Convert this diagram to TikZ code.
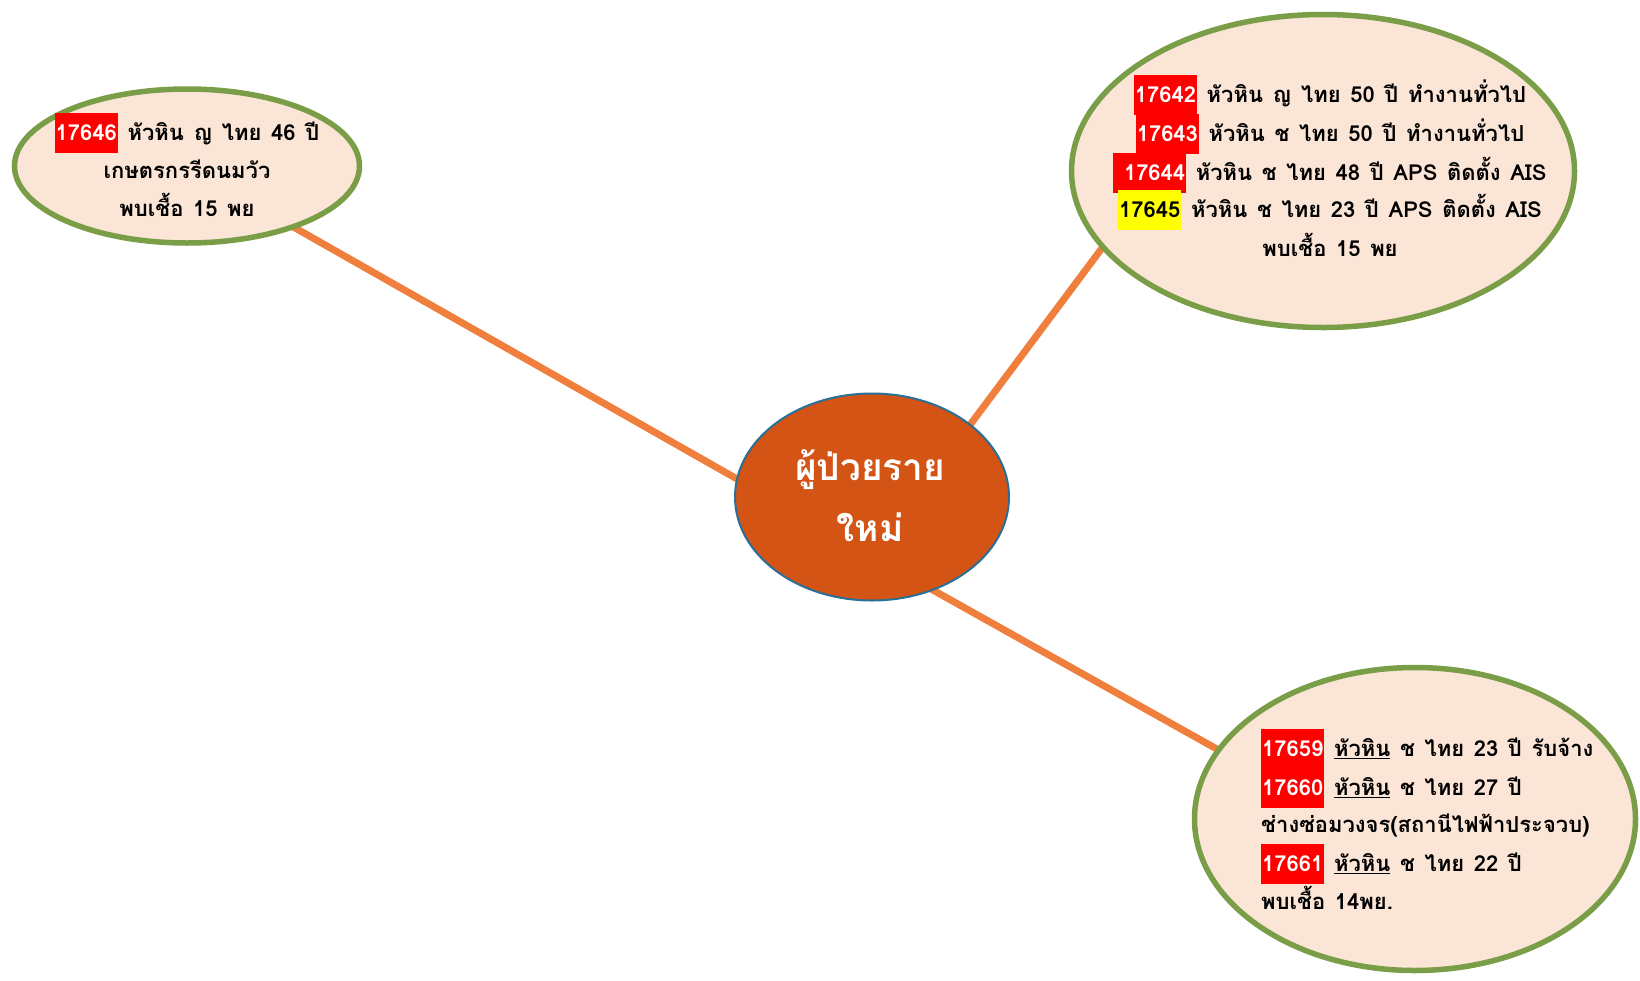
\documentclass[tikz,border=0pt]{standalone}
\usepackage{fontspec}
\usepackage{xcolor}
\usetikzlibrary{shapes.geometric}
\newfontfamily\thai[Script=Thai,WordSpace=1.3]{Loma}
\definecolor{bubblefill}{HTML}{FBE5D6}
\definecolor{bubbleedge}{HTML}{7A9D48}
\definecolor{corefill}{HTML}{D35414}
\definecolor{coreedge}{HTML}{2A6F97}
\definecolor{linkorange}{HTML}{F07E3C}
\definecolor{hlred}{HTML}{FF0000}
\definecolor{hlyellow}{HTML}{FFFF00}
\newcommand\hlnum[3]{{\setlength\fboxsep{1pt}\colorbox{#1}{\rule[-11.5pt]{0pt}{38pt}\color{#2}#3}}}
\newcommand\ul[1]{\underline{#1}}
\tikzset{
  bubble/.style={ellipse, draw=bubbleedge, line width=5.5pt, fill=bubblefill, inner sep=0pt},
  core/.style={ellipse, draw=coreedge, line width=2pt, fill=corefill, inner sep=0pt},
  link/.style={draw=linkorange, line width=7pt},
  txt/.style={inner sep=0pt, anchor=base, font=\thai\bfseries\fontsize{22}{26}\selectfont},
  txtl/.style={txt, anchor=base west},
  coretxt/.style={inner sep=0pt, anchor=base, text=white, font=\thai\bfseries\fontsize{37}{42}\selectfont}
}
\begin{document}
\begin{tikzpicture}[x=1pt,y=-1pt]
\useasboundingbox (0,0) rectangle (1640,980);
% connector end coordinates
\coordinate (cL) at (760,492);
\coordinate (cT) at (955,445);
\coordinate (tIn) at (1120,224);
\coordinate (cB) at (915,580);
\coordinate (bIn) at (1240,762);
\coordinate (lIn) at (260,208);
% connectors (behind)
\draw[link] (lIn) -- (cL);
\draw[link] (cT) -- (tIn);
\draw[link] (cB) -- (bIn);
% bubbles
\node[bubble, minimum width=345pt, minimum height=154pt] (left) at (187,166) {};
\node[bubble, minimum width=503pt, minimum height=313pt] (topright) at (1323,171) {};
\node[bubble, minimum width=441pt, minimum height=303pt] (botright) at (1415,819) {};
\node[core, minimum width=274pt, minimum height=207pt] (center) at (872,497) {};
% left bubble text
\node[txt] (l1) at (187,140.5) {\hlnum{hlred}{white}{17646} หัวหิน ญ ไทย 46 ปี};
\node[txt] (l2) at (187,178.5) {เกษตรกรรีดนมวัว};
\node[txt] (l3) at (187,216.5) {พบเชื้อ 15 พย};
% top right text
\node[txt] (t1) at (1330,102.5) {\hlnum{hlred}{white}{17642} หัวหิน ญ ไทย 50 ปี ทำงานทั่วไป};
\node[txt] (t2) at (1330,141.5) {\hlnum{hlred}{white}{17643} หัวหิน ช ไทย 50 ปี ทำงานทั่วไป};
\node[txt] (t3) at (1330,180.5) {\hlnum{hlred}{white}{\ 17644} หัวหิน ช ไทย 48 ปี APS ติดตั้ง AIS};
\node[txt] (t4) at (1330,217.5) {\hlnum{hlyellow}{black}{17645} หัวหิน ช ไทย 23 ปี APS ติดตั้ง AIS};
\node[txt] (t5) at (1330,256.5) {พบเชื้อ 15 พย};
% bottom right text
\node[txtl] (b1) at (1261,756.5) {\hlnum{hlred}{white}{17659} \ul{หัวหิน} ช ไทย 23 ปี รับจ้าง};
\node[txtl] (b2) at (1261,795.5) {\hlnum{hlred}{white}{17660} \ul{หัวหิน} ช ไทย 27 ปี};
\node[txtl] (b3) at (1261,832.5) {ช่างซ่อมวงจร(สถานีไฟฟ้าประจวบ)};
\node[txtl] (b4) at (1261,871.5) {\hlnum{hlred}{white}{17661} \ul{หัวหิน} ช ไทย 22 ปี};
\node[txtl] (b5) at (1261,909.5) {พบเชื้อ 14พย.};
% center text
\node[coretxt] (c1) at (870,480) {ผู้ป่วยราย};
\node[coretxt] (c2) at (870,541) {ใหม่};
\end{tikzpicture}
\end{document}
